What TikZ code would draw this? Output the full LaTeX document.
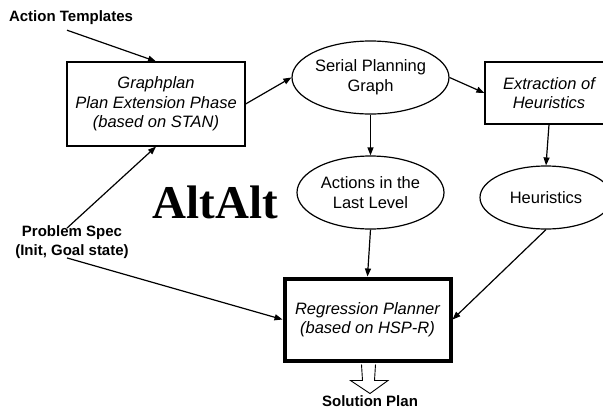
\documentclass[tikz,border=0pt]{standalone}
\usepackage{fontspec}
\setmainfont{Liberation Sans}
\newfontfamily\titlefont{Liberation Serif}
\usetikzlibrary{arrows.meta,shapes.geometric,calc}

\tikzset{
  arr/.style={line width=1.2pt,-{Triangle[length=8pt,width=6pt]}},
  procbox/.style={draw,line width=1.2pt,rectangle,inner sep=0pt,align=center,
    font=\fontsize{16.5}{19.5}\selectfont\itshape},
  oval/.style={draw,line width=1.2pt,ellipse,inner sep=0pt,align=center,
    font=\fontsize{16.5}{20}\selectfont},
  lbl/.style={inner sep=1pt,align=center,font=\fontsize{15}{19.5}\selectfont\bfseries}
}

\begin{document}
\begin{tikzpicture}[x=1pt,y=-1pt]
  \useasboundingbox (0,0) rectangle (603,410);
  \clip (0,0) rectangle (603,410);

  % processing steps and intermediate results
  \node[procbox,minimum width=178pt,minimum height=84pt] (gp) at (156,104)
    {Graphplan\\Plan Extension Phase\\(based on STAN)};
  \node[oval,minimum width=147pt,minimum height=73pt] (spg) at (370.5,77.5)
    {Serial Planning\\Graph};
  \node[procbox,minimum width=128pt,minimum height=62pt] (ex) at (549,93)
    {Extraction of\\Heuristics};
  \node[oval,minimum width=147pt,minimum height=73pt] (act) at (370.5,192.5)
    {Actions in the\\Last Level};
  \node[oval,minimum width=132pt,minimum height=63pt] (heur) at (546,197.5)
    {Heuristics};
  \node[procbox,line width=4pt,minimum width=166pt,minimum height=82pt] (rp) at (367.5,319.5)
    {Regression Planner\\(based on HSP-R)};

  % inputs and output
  \node[lbl] (at) at (71,18) {Action Templates};
  \node[lbl] (ps) at (72,242) {Problem Spec\\(Init, Goal state)};
  \node[lbl,inner sep=0pt] (sol) at (370,401.5) {Solution Plan};

  % system name
  \node[inner sep=0pt,anchor=base,font=\titlefont\fontsize{47}{47}\selectfont\bfseries]
    (name) at (215.5,218) {AltAlt};

  % data flow
  \draw[arr] ([xshift=-4pt,yshift=-4pt]at.south) -- (gp.north);
  \draw[arr] (gp.east) -- (spg.west);
  \draw[arr] (spg.east) -- (ex.west);
  \draw[arr] (spg.south) -- (act.north);
  \draw[arr] (ex.south) -- (heur.north);
  \draw[arr] (act.south) -- (rp.north);
  \draw[arr] (heur.south) -- (rp.east);
  \draw[arr] ([xshift=-5pt,yshift=-4pt]ps.north) -- (gp.south);
  \draw[arr] ([xshift=-5pt,yshift=2pt]ps.south) -- (rp.west);

  % hollow output arrow
  \coordinate (out) at (rp.south);
  \draw[line width=0.9pt,fill=white,line join=miter]
    ($(out)+(-6,2)$) -- ($(out)+(-5,18)$) -- ($(out)+(-17,18)$)
    -- ($(out)+(2.5,31)$) -- ($(out)+(20.5,18)$) -- ($(out)+(7,18)$)
    -- ($(out)+(8,2)$);
\end{tikzpicture}
\end{document}
